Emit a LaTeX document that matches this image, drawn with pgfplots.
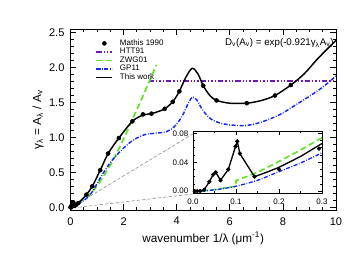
\documentclass[border=0pt]{standalone}
\usepackage{fontspec}
\setmainfont{Liberation Sans}
\usepackage{pgfplots}
\pgfplotsset{compat=1.18}
\definecolor{htt}{RGB}{110,25,190}
\definecolor{zwg}{RGB}{95,228,35}
\definecolor{gpb}{RGB}{20,40,250}
\definecolor{gline}{RGB}{150,150,150}
\begin{document}
\begin{tikzpicture}
\useasboundingbox (-52.875pt,-33.75pt) rectangle (214.875pt,157.5pt);
\begin{axis}[
  at={(0pt,0pt)}, anchor=south west, scale only axis,
  width=199.125pt, height=135.6pt,
  xmin=0, xmax=10, ymin=-0.04, ymax=2.55,
  xtick={0,2,4,6,8,10}, ytick={0,0.5,1,1.5,2,2.5},
  minor x tick num=3, minor y tick num=4,
  tick align=inside, major tick length=4.5pt, minor tick length=2.3pt,
  tick style={line width=0.6pt, black},
  axis line style={line width=0.7pt},
  scaled ticks=false,
  /pgf/number format/assume math mode=true,
  xticklabel style={font=\fontsize{8.3}{9}\selectfont, yshift=-2pt},
  yticklabel style={font=\fontsize{8.3}{9}\selectfont, xshift=-1pt, /pgf/number format/.cd, fixed, fixed zerofill, precision=1},
  xlabel={wavenumber 1/λ (μm\textsuperscript{-1})},
  ylabel={γ\textsubscript{λ} = A\textsubscript{λ} / A\textsubscript{v}},
  every axis x label/.style={at={(axis description cs:0.5,-0.155)}, anchor=center, font=\fontsize{8.8}{10}\selectfont},
  every axis y label/.style={at={(axis description cs:-0.1224,0.5)}, anchor=center, rotate=90, font=\fontsize{8.8}{10}\selectfont},
  legend style={at={(axis description cs:0.094,0.945)}, anchor=north west, draw=none, fill=none,
    inner sep=0pt, outer sep=0pt, font=\fontsize{6}{6}\selectfont, column sep=5pt,
    nodes={inner sep=0pt, text height=4.4pt, text depth=2pt}},
  legend cell align=left,
  legend image code/.code={\draw[mark repeat=2,mark phase=2,#1] plot coordinates {(0pt,0pt) (6pt,0pt) (12pt,0pt)};},
]
% zoom indicator lines
\addplot[gline, line width=0.5pt, dash pattern=on 2.5pt off 1.5pt, forget plot] coordinates {(0.05,0) (4.61,1.05)};
\addplot[gline, line width=0.5pt, dash pattern=on 2.5pt off 1.5pt, forget plot] coordinates {(0.3,0) (4.61,0.19)};

% Mathis 1990
\addplot[only marks, mark=*, mark size=1.5pt, black] coordinates {
(0.004,0) (0.01,0) (0.0167,0.0002) (0.026,0.002) (0.038,0.013) (0.047,0.023) (0.053,0.026)
(0.064,0.015) (0.082,0.030) (0.099,0.062) (0.103,0.069) (0.109,0.052) (0.143,0.020)
(0.2,0.030) (0.293,0.059)
(0.6,0.18) (0.82,0.30) (1.12,0.53) (1.42,0.77) (1.82,0.99) (2.33,1.23) (2.73,1.33)
(3.05,1.34) (3.55,1.41) (3.85,1.51) (4.1,1.66) (5.0,1.74) (5.5,1.53) (6.64,1.49)
(7.7,1.60) (8.3,1.75)};
\addlegendentry{Mathis 1990}

% HTT91
\addplot[draw=htt, line width=1.4pt, dash pattern=on 4pt off 1.5pt on 1pt off 1.5pt on 1pt off 1.5pt on 1pt off 1.5pt] coordinates {(2.95,1.805) (6.5,1.805) (10,1.805)};
\addlegendentry{HTT91}

% ZWG01
\addplot[zwg, line width=1.3pt, dash pattern=on 4.5pt off 2.5pt, smooth] coordinates {
(0,0) (0.3,0.07) (0.6,0.14) (0.91,0.26) (1.29,0.47) (1.67,0.72) (2.0,0.98) (2.23,1.17) (2.7,1.57) (3.24,2.04)};
\addlegendentry{ZWG01}

% GP11
\addplot[gpb, line width=1.1pt, dash pattern=on 3pt off 1.2pt on 0.6pt off 1.2pt, smooth] coordinates {
(0,0) (0.3,0.05) (0.55,0.11) (0.8,0.21) (1.17,0.45) (1.54,0.66) (1.98,0.84) (2.36,0.96)
(2.8,1.04) (3.2,1.06) (3.6,1.08) (3.9,1.15) (4.2,1.30) (4.45,1.50) (4.6,1.58) (4.75,1.54)
(5.0,1.38) (5.3,1.26) (5.6,1.21) (6.0,1.18) (6.6,1.17) (7.2,1.22) (7.9,1.33) (8.5,1.47)
(9.0,1.59) (9.5,1.72) (10,1.88)};
\addlegendentry{GP11}

% This work
\addplot[black, line width=1.1pt, smooth] coordinates {
(0,0) (0.3,0.066) (0.6,0.18) (0.82,0.30) (1.12,0.53) (1.42,0.77) (1.82,0.99) (2.33,1.23)
(2.73,1.32) (3.05,1.34) (3.3,1.37) (3.55,1.41) (3.85,1.51) (4.1,1.66) (4.33,1.85) (4.58,1.99)
(4.8,1.91) (5.0,1.74) (5.25,1.60) (5.5,1.53) (6.0,1.49) (6.64,1.49) (7.2,1.53) (7.7,1.60)
(8.3,1.75) (8.8,1.91) (9.27,2.11) (9.6,2.24) (10,2.39)};
\addlegendentry{This work}

\node[anchor=east, font=\fontsize{7.3}{8}\selectfont, inner sep=0pt] at (rel axis cs:0.992,0.924)
  {D\textsubscript{v}(A\textsubscript{v}) = exp(-0.921γ\textsubscript{λ}A\textsubscript{v})};
\end{axis}

\begin{axis}[
  at={(91.875pt,12.525pt)}, anchor=south west, scale only axis,
  width=96.75pt, height=46.35pt,
  xmin=0, xmax=0.3, ymin=-0.003, ymax=0.0826,
  xtick={0,0.1,0.2,0.3}, ytick={0,0.04,0.08},
  minor x tick num=1, minor y tick num=3,
  tick align=inside, major tick length=3pt, minor tick length=1.5pt,
  tick style={line width=0.5pt, black},
  axis line style={line width=0.7pt},
  axis background/.style={fill=white},
  scaled ticks=false,
  /pgf/number format/assume math mode=true,
  xticklabel style={font=\fontsize{6}{7}\selectfont, yshift=-1pt, /pgf/number format/.cd, fixed, fixed zerofill, precision=1},
  yticklabel style={font=\fontsize{6}{7}\selectfont, /pgf/number format/.cd, fixed, fixed zerofill, precision=2},
]
% ZWG01 inset
\addplot[zwg, line width=1.2pt, dash pattern=on 4.5pt off 2.5pt] coordinates {
(0.02,0) (0.05,0.002) (0.075,0.0045) (0.1,0.0068) (0.1,0.0145) (0.15,0.026) (0.2,0.041) (0.25,0.057) (0.3,0.074)};
% GP11 inset
\addplot[gpb, line width=1pt, dash pattern=on 3pt off 1.2pt on 0.6pt off 1.2pt, smooth] coordinates {
(0.02,0) (0.05,0.0018) (0.075,0.004) (0.1,0.0068) (0.15,0.015) (0.2,0.027) (0.25,0.039) (0.3,0.053)};
% This work inset
\addplot[black, line width=1pt] coordinates {
(0,0) (0.004,0) (0.01,0) (0.0167,0.0002) (0.026,0.002) (0.038,0.013) (0.047,0.023) (0.053,0.026)
(0.064,0.015) (0.082,0.030) (0.099,0.062) (0.103,0.069) (0.109,0.052) (0.143,0.020)
(0.175,0.027) (0.2,0.033) (0.25,0.048) (0.3,0.066)};
% Mathis inset
\addplot[only marks, mark=*, mark size=1.4pt, black] coordinates {
(0.004,0) (0.01,0) (0.0167,0.0002) (0.026,0.002) (0.038,0.013) (0.047,0.023) (0.053,0.026)
(0.064,0.015) (0.082,0.030) (0.099,0.062) (0.103,0.069) (0.109,0.052) (0.143,0.020)
(0.2,0.030) (0.293,0.059)};
\end{axis}
\end{tikzpicture}
\end{document}
